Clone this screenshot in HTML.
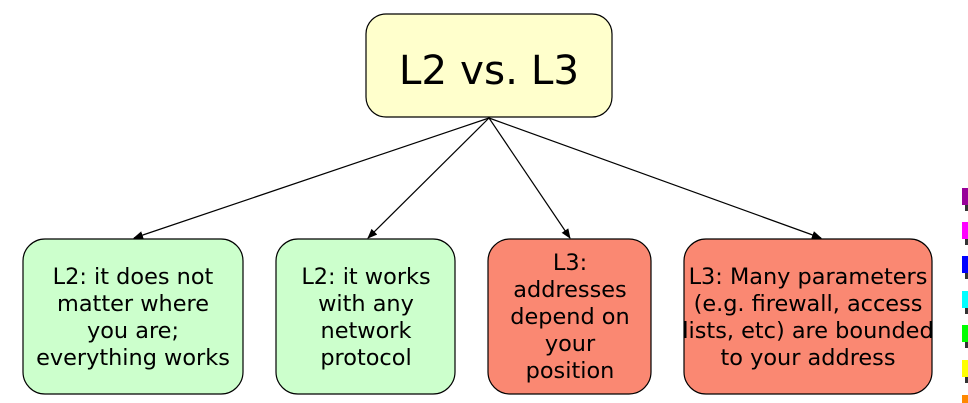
<!DOCTYPE html>
<html><head><meta charset="utf-8"><style>
html,body{margin:0;padding:0;background:#fff;width:968px;height:403px;overflow:hidden}
text{font-family:"DejaVu Sans","Liberation Sans",sans-serif;fill:#000}
</style></head><body>
<svg width="968" height="403" viewBox="0 0 968 403">
<defs><marker id="ah" markerWidth="10" markerHeight="8" refX="9" refY="4" orient="auto" markerUnits="userSpaceOnUse"><path d="M0,0 L10,4 L0,8 Z" fill="#000"/></marker></defs>
<g stroke="#000" stroke-width="1.2">
<line x1="489" y1="118" x2="134" y2="238" marker-end="url(#ah)"/>
<line x1="489" y1="118" x2="368" y2="238" marker-end="url(#ah)"/>
<line x1="489" y1="118" x2="570" y2="238" marker-end="url(#ah)"/>
<line x1="489" y1="118" x2="821" y2="238" marker-end="url(#ah)"/>
</g>
<g>
<rect x="366" y="14" width="246" height="103" rx="20" fill="#ffffcc" stroke="#000" stroke-width="1.2"/>
<text x="489" y="84" font-size="40.5" text-anchor="middle">L2 vs. L3</text>
</g>
<g font-size="22.4" text-anchor="middle">
<rect x="23" y="239" width="220" height="155" rx="22" fill="#ccffcc" stroke="#000" stroke-width="1.2"/>
<text x="133" y="284">L2: it does not</text><text x="133" y="311">matter where</text><text x="133" y="338">you are;</text><text x="133" y="365">everything works</text>
</g>
<g font-size="22.4" text-anchor="middle">
<rect x="276" y="239" width="179" height="155" rx="22" fill="#ccffcc" stroke="#000" stroke-width="1.2"/>
<text x="366" y="284">L2: it works</text><text x="366" y="311">with any</text><text x="366" y="338">network</text><text x="366" y="365">protocol</text>
</g>
<g font-size="22.4" text-anchor="middle">
<rect x="488" y="239" width="163" height="155" rx="22" fill="#fa8872" stroke="#000" stroke-width="1.2"/>
<text x="570" y="270">L3:</text><text x="570" y="297">addresses</text><text x="570" y="324">depend on</text><text x="570" y="351">your</text><text x="570" y="378">position</text>
</g>
<g font-size="22.4" text-anchor="middle">
<rect x="684" y="239" width="248" height="155" rx="22" fill="#fa8872" stroke="#000" stroke-width="1.2"/>
<text x="808" y="284">L3: Many parameters</text><text x="808" y="311">(e.g. firewall, access</text><text x="808" y="338">lists, etc) are bounded</text><text x="808" y="365">to your address</text>
</g>
<g>
<rect x="962" y="188" width="6" height="17" fill="#990099"/><rect x="965" y="205" width="3" height="6" fill="#333"/>
<rect x="962" y="222" width="6" height="17" fill="#ff00ff"/><rect x="965" y="239" width="3" height="6" fill="#333"/>
<rect x="962" y="256" width="6" height="17" fill="#0000ff"/><rect x="965" y="273" width="3" height="6" fill="#333"/>
<rect x="962" y="291" width="6" height="17" fill="#00ffff"/><rect x="965" y="308" width="3" height="6" fill="#333"/>
<rect x="962" y="325" width="6" height="17" fill="#00ff00"/><rect x="965" y="342" width="3" height="6" fill="#333"/>
<rect x="962" y="360" width="6" height="17" fill="#ffff00"/><rect x="965" y="377" width="3" height="6" fill="#333"/>
<rect x="962" y="395" width="6" height="8" fill="#ff8800"/>
</g>
</svg>
</body></html>
